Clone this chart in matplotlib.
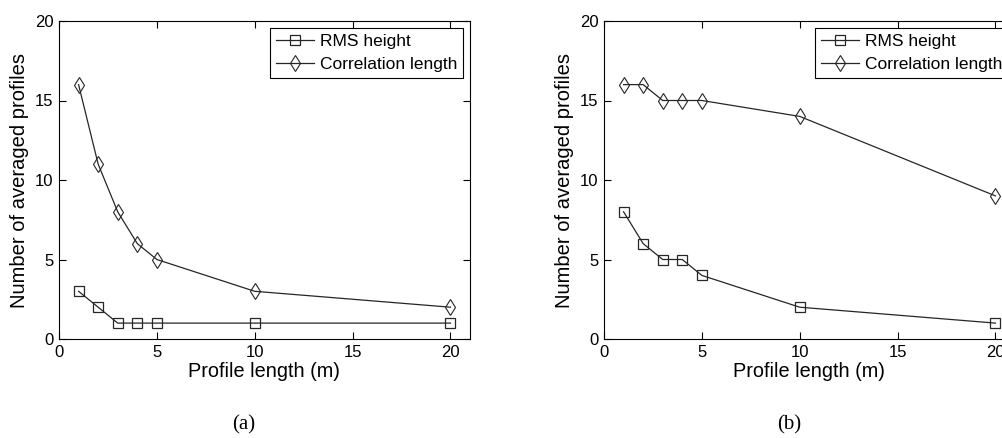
import matplotlib
matplotlib.use("Agg")
import matplotlib.pyplot as plt

# Profile lengths (m)
x = [1, 2, 3, 4, 5, 10, 20]

# (a)
rms_a = [3, 2, 1, 1, 1, 1, 1]
corr_a = [16, 11, 8, 6, 5, 3, 2]

# (b)
rms_b = [8, 6, 5, 5, 4, 2, 1]
corr_b = [16, 16, 15, 15, 15, 14, 9]

xticks = [0, 5, 10, 15, 20]
yticks = [0, 5, 10, 15, 20]

plt.rcParams["font.family"] = ["Liberation Sans", "DejaVu Sans"]

fig = plt.figure(figsize=(10.03, 4.38), dpi=100)
ax_a = fig.add_axes([59 / 1003, 99 / 438, 411 / 1003, 318 / 438])
ax_b = fig.add_axes([604 / 1003, 99 / 438, 411 / 1003, 318 / 438])

LINE = "#262626"


def draw_panel(ax, rms, corr, caption):
    ax.plot(x, rms, color=LINE, lw=0.9, marker="s", ms=7.5, mfc="none",
            mec=LINE, mew=0.9, label="RMS height")
    ax.plot(x, corr, color=LINE, lw=0.9, marker="d", ms=8.5, mfc="none",
            mec=LINE, mew=0.8, label="Correlation length")
    ax.set_xlim(0, 21)
    ax.set_ylim(0, 20)
    ax.set_xticks(xticks)
    ax.set_yticks(yticks)
    ax.tick_params(direction="in", length=5, width=0.8, top=True, right=True,
                   labelsize=12, pad=4, colors="black")
    for s in ax.spines.values():
        s.set_linewidth(0.8)
    ax.set_xlabel("Profile length (m)", fontsize=14.3, labelpad=2)
    ax.set_ylabel("Number of averaged profiles", fontsize=14.5, labelpad=4)
    leg = ax.legend(loc="upper right", fontsize=12.5, frameon=True, fancybox=False,
                    edgecolor="black", framealpha=1, borderpad=0.35,
                    labelspacing=0.45, handlelength=2.2, handletextpad=0.3,
                    borderaxespad=0.4)
    leg.get_frame().set_linewidth(0.8)
    ax.text(0.45, -0.27, caption, transform=ax.transAxes, ha="center", va="center",
            fontsize=15, family=["Liberation Serif", "DejaVu Serif"])


draw_panel(ax_a, rms_a, corr_a, "(a)")
draw_panel(ax_b, rms_b, corr_b, "(b)")

fig.savefig("out.png", dpi=100)
plt.close(fig)
